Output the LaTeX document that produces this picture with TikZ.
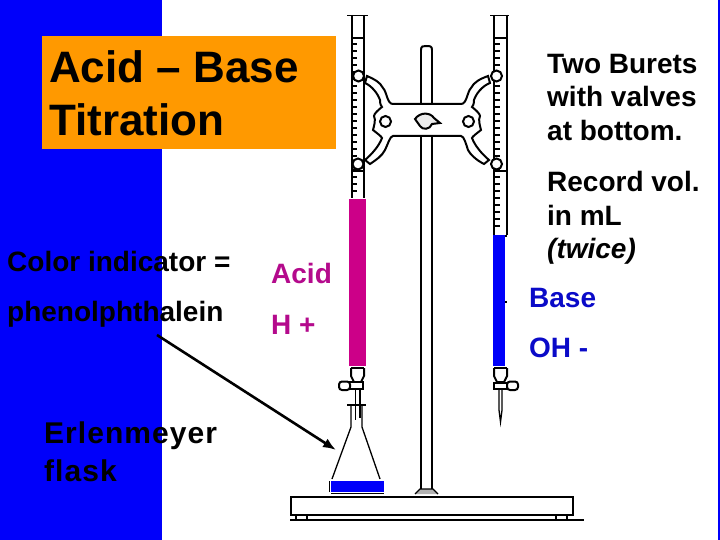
\documentclass[tikz,border=0pt]{standalone}
\usepackage{fontspec}
\setmainfont{Liberation Sans}
\usepackage{tikz}
\usetikzlibrary{arrows.meta}
\definecolor{slideblue}{RGB}{0,0,250}
\definecolor{titleorange}{RGB}{255,153,0}
\definecolor{acidpink}{RGB}{204,0,136}
\definecolor{acidtext}{RGB}{180,10,140}
\definecolor{basetext}{RGB}{10,10,200}
\tikzset{
         glass/.style={line width=2pt,draw=black},
         thin glass/.style={line width=1.3pt,draw=black},
         tick/.style={line width=1.3pt,draw=black},
         label text/.style={anchor=base west,align=left,inner sep=0pt,text=black,font=\bfseries\fontsize{28}{33}\selectfont},
         side text/.style={anchor=base west,align=left,inner sep=0pt,text=black,font=\bfseries\fontsize{28}{33.5}\selectfont}
        }
\begin{document}
\begin{tikzpicture}[x=1pt,y=-1pt]
\useasboundingbox(0,0)rectangle(720,540);
%background
\fill[slideblue](0,0)rectangle(162,540);
\fill[slideblue](717.5,0)rectangle(720,540);
\fill[titleorange](42,36)rectangle(336,149);
%stand
\draw[glass](421,50)--(421,492)(432,50)--(432,492);
\draw[glass](421,50)..controls(421,46)and(423,46)..(426,46)..controls(430,46)and(432,46)..(432,50);
\fill[gray!60](415,494)--(420,489)--(433,489)--(438,494)--cycle;
\draw[thin glass](415,494)--(420,489)--(433,489)--(438,494);
\draw[glass](291,496.5)rectangle(573,515);
\draw[glass](290,520)--(584,520);
\draw[thin glass](296,515)--(296,519)(307,515)--(307,519)(556,515)--(556,519)(567,515)--(567,519);
%clamp
\draw[glass,fill=white](393,104)--(461,104)
 ..controls(467,104)and(467,92)..(471,88)..controls(474,82)and(480,79)..(488,76)
 --(490,83)..controls(482,86)and(476,94)..(474,100)..controls(474,104)and(473,106)..(472,107)
 ..controls(476,110)and(480,114)..(480,116)..controls(478,120)and(480,126)..(481,130)..controls(476,134)and(473,136)..(472,138)
 ..controls(475,146)and(482,154)..(489,160)--(484,164)..controls(476,160)and(470,154)..(468,150)..controls(466,144)and(464,136)..(461,136)
 --(393,136)..controls(390,136)and(388,144)..(385,150)..controls(382,156)and(376,160)..(370,164)--(365,160)
 ..controls(372,154)and(379,146)..(382,138)..controls(381,136)and(378,134)..(373,130)..controls(374,126)and(376,120)..(374,116)
 ..controls(374,114)and(378,110)..(382,107)..controls(381,106)and(380,104)..(380,100)..controls(378,94)and(372,86)..(365,83)
 --(367,76)..controls(374,79)and(380,82)..(383,88)..controls(387,92)and(387,104)..(393,104)--cycle;
\draw[glass,fill=white](385.5,121.5)circle(5.5);
\draw[glass,fill=white](468.5,121.5)circle(5.5);
\draw[glass,fill=gray!15](415,119)..controls(420,112)and(430,112)..(434,118)--(440,123)--(432,124)..controls(430,130)and(422,130)..(420,126)--cycle;
%left buret
\draw[glass](351.5,15)--(351.5,198)(364,15)--(364,198);
\draw[thin glass](347,15.5)--(368,15.5);
\draw[thin glass](351,38)--(364,38);
\draw[thin glass](351,171)--(364,171);
\foreach \ypos in {44,51,...,192}{\draw[tick](351,\ypos)--(357,\ypos);}
\fill[acidpink](349,199)rectangle(366,366);
%left valve
\draw[glass](351,368)--(351,376)--(354,382)--(361,382)--(364,376)--(364,368);
\draw[glass](351,368)--(364,368);
\draw[glass,fill=white](349,382)rectangle(363,389);
\draw[glass,rounded corners=3,fill=white](339,381.5)rectangle(350,390);
\draw[thin glass](355.5,389)--(355.5,420)(360,389)--(360,418);
\draw[thin glass](347,405)--(366,405);
%flask
\draw[thin glass](351,405)--(351,427)--(332,479)(362,405)--(362,427)--(380,479);
\fill[slideblue](331,481)rectangle(384,492);
\draw[thin glass](331,493.5)--(384,493.5)(329.5,481)--(329.5,492);
%right buret
\draw[glass](494,15)--(494,235)(507,15)--(507,235);
\draw[thin glass](490,15.5)--(509,15.5);
\draw[thin glass](494,38)--(507,38);
\draw[thin glass](494,171)--(507,171);
\foreach \ypos in {44,51,...,230}{\draw[tick](494,\ypos)--(500,\ypos);}
\fill[slideblue](493,235)rectangle(504.5,366);
\draw[thin glass](505,236)--(507,236)(505,302)--(507,302);
%right valve
\draw[glass](494,368)--(494,376)--(497,382)--(504,382)--(507,376)--(507,368);
\draw[glass](494,368)--(507,368);
\draw[glass,fill=white](494,383)rectangle(507,389);
\draw[glass,rounded corners=3,fill=white](507,381.5)rectangle(518,390);
\draw[thin glass](499,389)--(499,410)(502,389)--(502,410)--(500.5,422)--(499,410);
%clamp screws
\draw[glass,fill=white](358.5,76)circle(5.5);
\draw[glass,fill=white](358,164)circle(5.5);
\draw[glass,fill=white](496.5,76)circle(5.5);
\draw[glass,fill=white](496.5,164)circle(5.5);
%labels
\node[anchor=base west,align=left,inner sep=0pt,text=black,font=\bfseries\fontsize{44}{52.5}\selectfont](title)at(49,135.5){Acid -- Base\\Titration};
\node[label text](indicator)at(7,271.5){Color indicator =};
\node[label text](phenol)at(7,321.5){phenolphthalein};
\node[label text,text=acidtext](acid)at(271,283){Acid};
\node[label text,text=acidtext](hplus)at(271,334){H +};
\node[label text,font=\bfseries\addfontfeature{LetterSpace=3.5}\fontsize{30}{38}\selectfont](flask)at(44,481){Erlenmeyer\\flask};
\node[side text](burets)at(547,140.5){Two Burets\\with valves\\at bottom.};
\node[side text](record)at(547,258.5){Record vol.\\in mL\\\textit{(twice)}};
\node[side text,text=basetext](base)at(529,307.5){Base};
\node[side text,text=basetext](hydroxide)at(529,357){OH -};
%pointer
\coordinate (pointerstart) at (157,335);
\coordinate (pointerend) at (336,450);
\draw[-{Latex[length=13pt,width=10pt]},line width=2.6pt,black](pointerstart)--(pointerend);
\end{tikzpicture}
\end{document}
